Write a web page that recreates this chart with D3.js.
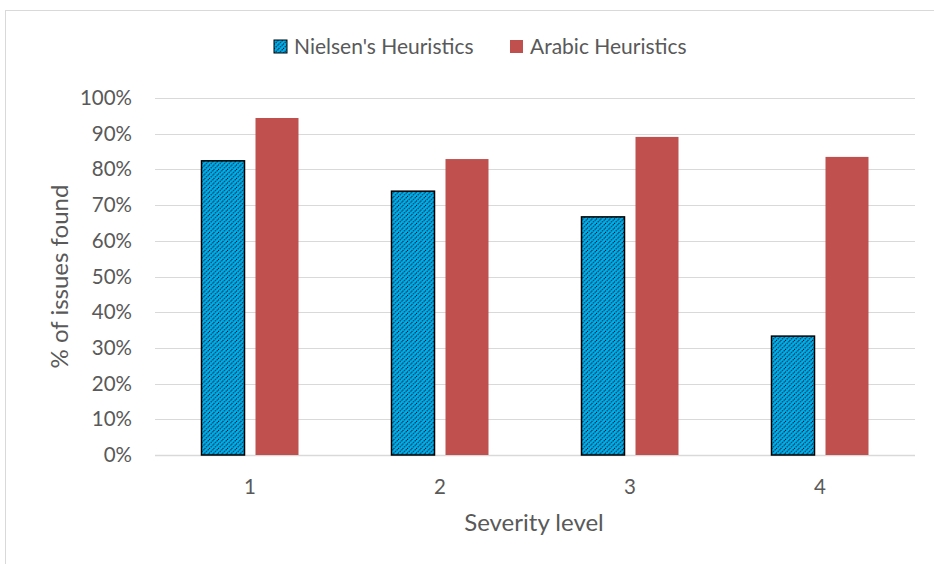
<!DOCTYPE html>
<html>
<head>
<meta charset="utf-8">
<script src="https://cdn.jsdelivr.net/npm/d3@7"></script>
<style>
  body { margin: 0; background: #fff; }
  text { font-family: Lato, "Open Sans", sans-serif; fill: #595959; }
</style>
</head>
<body>
<div id="chart"></div>
<script>
// data
var categories = ["1", "2", "3", "4"];
var seriesNames = ["Nielsen's Heuristics", "Arabic Heuristics"];
var nielsen = [0.824, 0.739, 0.667, 0.333];
var arabic = [0.944, 0.829, 0.891, 0.835];
var yTicks = [0, 0.1, 0.2, 0.3, 0.4, 0.5, 0.6, 0.7, 0.8, 0.9, 1.0];

var W = 934, H = 564;
var margin = {top: 98, right: 19, bottom: 109, left: 155},
    width = W - margin.left - margin.right,
    height = H - margin.top - margin.bottom;

var svg = d3.select("#chart").append("svg")
    .attr("width", W)
    .attr("height", H);

// chart frame
svg.append("rect")
    .attr("x", 5.5).attr("y", 10.5)
    .attr("width", W).attr("height", H)
    .attr("fill", "none")
    .attr("stroke", "#d9d9d9");

// hatch pattern for Nielsen bars
var defs = svg.append("defs");
var pat = defs.append("pattern")
    .attr("id", "hatch")
    .attr("patternUnits", "userSpaceOnUse")
    .attr("width", 4.5).attr("height", 4.5);
pat.append("rect").attr("width", 4.5).attr("height", 4.5).attr("fill", "#00B0F0");
pat.append("path")
    .attr("d", "M-1,1 l2,-2 M0,4.5 l4.5,-4.5 M3.5,5.5 l2,-2")
    .attr("stroke", "#000")
    .attr("stroke-width", 1)
    .attr("stroke-dasharray", "1.3,1");

var g = svg.append("g")
    .attr("transform", "translate(" + margin.left + "," + margin.top + ")");

var x = d3.scaleBand().domain(categories).range([0, width]);
var y = d3.scaleLinear().domain([0, 1]).range([height, 0]);

// gridlines
g.selectAll("line.grid")
    .data(yTicks)
    .enter().append("line")
    .attr("class", "grid")
    .attr("x1", 0).attr("x2", width)
    .attr("y1", function(d) { return Math.round(y(d)) + 0.5; })
    .attr("y2", function(d) { return Math.round(y(d)) + 0.5; })
    .attr("stroke", "#d9d9d9")
    .attr("stroke-width", function(d) { return d === 0 ? 1.5 : 1; });

// y axis labels
var yAxis = d3.axisLeft(y).tickValues(yTicks)
    .tickFormat(d3.format(".0%")).tickSize(0).tickPadding(23);
var yg = g.append("g").call(yAxis);
yg.select(".domain").remove();
yg.selectAll("text").attr("font-size", "20.5px").attr("fill", "#595959")
    .style("font-family", "Lato");

// x axis labels
var xAxis = d3.axisBottom(x).tickSize(0).tickPadding(24);
var xg = g.append("g").attr("transform", "translate(0," + height + ")").call(xAxis);
xg.select(".domain").remove();
xg.selectAll("text").attr("font-size", "20.5px").attr("fill", "#595959")
    .style("font-family", "Lato");

var barW = 43, off = 27;

// Nielsen bars
g.selectAll("rect.nielsen")
    .data(nielsen)
    .enter().append("rect")
    .attr("class", "nielsen")
    .attr("x", function(d, i) { return x(categories[i]) + x.bandwidth() / 2 - off - barW / 2; })
    .attr("y", function(d) { return y(d); })
    .attr("width", barW)
    .attr("height", function(d) { return height - y(d); })
    .attr("fill", "url(#hatch)")
    .attr("stroke", "#000")
    .attr("stroke-width", 1.5);

// Arabic bars
g.selectAll("rect.arabic")
    .data(arabic)
    .enter().append("rect")
    .attr("class", "arabic")
    .attr("x", function(d, i) { return x(categories[i]) + x.bandwidth() / 2 + off - barW / 2; })
    .attr("y", function(d) { return y(d); })
    .attr("width", barW)
    .attr("height", function(d) { return height - y(d); })
    .attr("fill", "#C0504D");

// axis titles
svg.append("text")
    .attr("x", margin.left + width / 2 - 1)
    .attr("y", 531)
    .attr("text-anchor", "middle")
    .attr("font-size", "24px")
    .text("Severity level");

svg.append("text")
    .attr("transform", "translate(68," + (margin.top + height / 2) + ") rotate(-90)")
    .attr("text-anchor", "middle")
    .attr("font-size", "24px")
    .text("% of issues found");

// legend
var legendX = [274, 510];
var legend = svg.selectAll("g.legend")
    .data(seriesNames)
    .enter().append("g")
    .attr("class", "legend")
    .attr("transform", function(d, i) { return "translate(" + legendX[i] + ",40)"; });
legend.append("rect")
    .attr("width", 13).attr("height", 13)
    .attr("fill", function(d, i) { return i === 0 ? "url(#hatch)" : "#C0504D"; })
    .attr("stroke", function(d, i) { return i === 0 ? "#000" : "none"; })
    .attr("stroke-width", 1);
legend.append("text")
    .attr("x", 20).attr("y", 14)
    .attr("font-size", "21px")
    .text(function(d) { return d; });
</script>
</body>
</html>
